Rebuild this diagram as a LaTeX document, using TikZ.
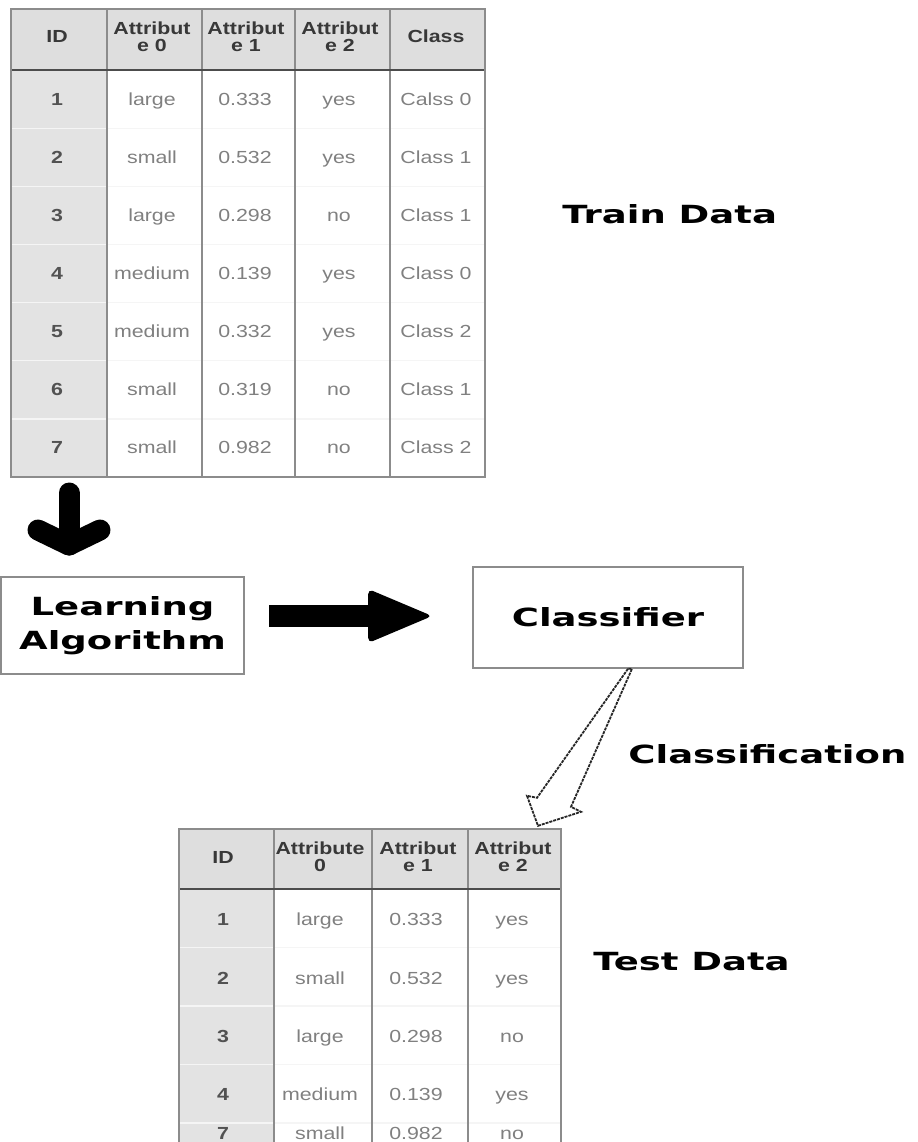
\documentclass[tikz,border=0pt]{standalone}
\usepackage{fontspec}
\setmainfont{Liberation Sans}
\newfontfamily\cellfont[FakeStretch=1.22]{Liberation Sans}
\newfontfamily\titlefont[FakeStretch=1.48]{DejaVu Sans}
\usetikzlibrary{calc}

\tikzset{
  tcell/.style={inner sep=0pt, anchor=base, text=black!50,
    font=\cellfont\fontsize{8.75}{8.35}\selectfont},
  thead/.style={tcell, anchor=center, align=center, text=black!78,
    font=\cellfont\bfseries\fontsize{8.75}{8.35}\selectfont},
  tid/.style={tcell, text=black!68,
    font=\cellfont\bfseries\fontsize{8.75}{8.35}\selectfont},
  bigtext/.style={inner sep=0pt, align=center,
    font=\titlefont\bfseries\fontsize{12.5}{17}\selectfont},
  stepbox/.style={bigtext, draw=black!45, line width=0.8pt, fill=white},
  colsep/.style={draw=black!45, line width=1.2pt},
  headsep/.style={draw=black!70, line width=1.2pt},
  rowsep/.style={draw=black!4, line width=0.6pt},
  fatstroke/.style={line width=10.5pt, line cap=round, line join=round},
  hollowarrow/.style={draw=black!85, fill=white, line width=0.9pt,
    dash pattern=on 1.5pt off 0.5pt},
}

\begin{document}
\begin{tikzpicture}[x=0.5pt, y=-0.5pt]
  \useasboundingbox (0,0) rectangle (917,1142);
  \clip (0,0) rectangle (917,1142);

  % training set
  \fill[black!13] (11,9) rectangle (485,70);
  \fill[black!11] (11,70) rectangle (107,477);
  \foreach \r in {1,...,6}
    \draw[rowsep] (11,{70+\r*58.15}) -- (485,{70+\r*58.15});
  \foreach \x in {107,202,295,390}
    \draw[colsep] (\x,9) -- (\x,477);
  \draw[headsep] (11,70) -- (485,70);
  \draw[colsep] (11,9) rectangle (485,477);

  \foreach \x/\h [count=\c] in {57/ID, 152/{Attribut\\e 0}, 246/{Attribut\\e 1},
      340/{Attribut\\e 2}, 436/Class}
    \node[thead] (tr-h-\c) at (\x,36.5) {\h};

  \foreach \vid/\vsize/\vnum/\vflag/\vcls [count=\r] in {1/large/0.333/yes/Calss 0,
      2/small/0.532/yes/Class 1, 3/large/0.298/no/Class 1, 4/medium/0.139/yes/Class 0,
      5/medium/0.332/yes/Class 2, 6/small/0.319/no/Class 1, 7/small/0.982/no/Class 2} {
    \pgfmathsetmacro\yy{70+(\r-0.5)*58.15+6}
    \node[tid]   (tr-\r-1) at (57,\yy)  {\vid};
    \node[tcell] (tr-\r-2) at (152,\yy) {\vsize};
    \node[tcell] (tr-\r-3) at (245,\yy) {\vnum};
    \node[tcell] (tr-\r-4) at (339,\yy) {\vflag};
    \node[tcell] (tr-\r-5) at (436,\yy) {\vcls};
  }

  \node[bigtext, anchor=base west] (train-lbl) at (562,223) {Train Data};

  % learner and classifier
  \node[stepbox, minimum width=121.5pt, minimum height=48.5pt] (learn)
    at (122.5,625.5) {Learning\\Algorithm};
  \node[stepbox, minimum width=135pt, minimum height=50.5pt] (classif)
    at (608,617.5) {Classifier};

  % thick arrow down into the learner
  \coordinate (dn-top) at (69,493);
  \coordinate (dn-tip) at (69,545);
  \draw[fatstroke] (dn-top) -- (dn-tip);
  \draw[fatstroke] ($(dn-tip)+(-31,-15)$) -- (dn-tip) -- ($(dn-tip)+(31,-15)$);

  % block arrow learner -> classifier
  \coordinate (rt-tail) at ($(learn.east)+(24,-9.5)$);
  \coordinate (rt-head) at ($(classif.west)+(-40,-1.5)$);
  \fill ($(rt-tail)+(0,-11)$) rectangle ($(rt-head)+(-62,11)$);
  \fill[rounded corners=2.5pt] ($(rt-head)+(-64,-27)$) -- (rt-head)
    -- ($(rt-head)+(-64,27)$) -- cycle;

  % hollow arrow down to the test set
  \draw[hollowarrow] ([xshift=10pt]classif.south) -- ++(-91,129) -- ++(-10,-2)
    -- ++(11,30) -- ++(43,-14) -- ++(-10,-5) -- ++(61,-138) -- cycle;
  \node[bigtext, anchor=base west] (cls-lbl) at (628,763) {Classification};

  % test set
  \fill[black!13] (179,829) rectangle (561,889);
  \fill[black!11] (179,889) rectangle (274,1190);
  \foreach \yy in {947.5,1006,1064.5,1123}
    \draw[rowsep] (179,\yy) -- (561,\yy);
  \foreach \x in {274,372,468}
    \draw[colsep] (\x,829) -- (\x,1190);
  \draw[headsep] (179,889) -- (561,889);
  \draw[colsep] (179,1190) -- (179,829) -- (561,829) -- (561,1190);

  \foreach \x/\h [count=\c] in {223/ID, 320/{Attribute\\0}, 418/{Attribut\\e 1},
      513/{Attribut\\e 2}}
    \node[thead] (te-h-\c) at (\x,857) {\h};

  \foreach \vid/\vsize/\vnum/\vflag/\yy [count=\r] in {1/large/0.333/yes/925,
      2/small/0.532/yes/984, 3/large/0.298/no/1042, 4/medium/0.139/yes/1100,
      7/small/0.982/no/1139} {
    \node[tid]   (te-\r-1) at (223,\yy) {\vid};
    \node[tcell] (te-\r-2) at (320,\yy) {\vsize};
    \node[tcell] (te-\r-3) at (416,\yy) {\vnum};
    \node[tcell] (te-\r-4) at (512,\yy) {\vflag};
  }

  \node[bigtext, anchor=base west] (test-lbl) at (593,970) {Test Data};
\end{tikzpicture}
\end{document}
